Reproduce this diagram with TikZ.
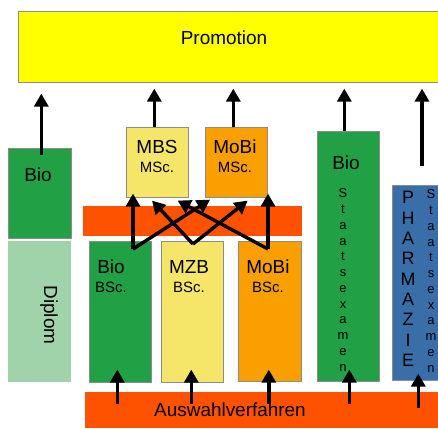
\documentclass[tikz,border=0pt]{standalone}
\usepackage{fontspec}
\setmainfont{Liberation Sans}
\usetikzlibrary{arrows.meta}

\definecolor{promoYellow}{RGB}{255,255,0}
\definecolor{bioGreen}{RGB}{33,160,70}
\definecolor{paleYellow}{RGB}{245,230,106}
\definecolor{mobiOrange}{RGB}{249,160,0}
\definecolor{barRed}{RGB}{255,82,0}
\definecolor{diplomGreen}{RGB}{161,211,170}
\definecolor{pharmaBlue}{RGB}{58,110,168}

\begin{document}
\begin{tikzpicture}[x=1bp,y=-1bp,
  box/.style={draw=black!45, line width=0.6bp, anchor=north west, inner sep=0pt},
  bar/.style={anchor=north west, inner sep=0pt},
  up/.style={line width=3.4bp, -{Triangle[width=14bp,length=13bp]}},
  big/.style={font=\fontsize{19}{22}\selectfont},
  small/.style={font=\fontsize{15}{18}\selectfont},
  stack/.style={align=center, inner sep=0pt}]

  \useasboundingbox (0,0) rectangle (438,428);

  % Draw the boxes
  \node[box, fill=promoYellow, minimum width=421bp, minimum height=71bp] (promo) at (18,11) {};
  \node[box, fill=bioGreen, minimum width=63bp, minimum height=90bp] (bio) at (8,148) {};
  \node[bar, fill=diplomGreen, minimum width=63bp, minimum height=141bp] (diplom) at (8,241) {};
  \node[bar, fill=barRed, minimum width=219bp, minimum height=30bp] (midbar) at (83,206) {};
  \node[box, fill=paleYellow, minimum width=62bp, minimum height=70bp] (mbs) at (126,127) {};
  \node[box, fill=mobiOrange, minimum width=62bp, minimum height=70bp] (mobimsc) at (205,127) {};
  \node[box, fill=bioGreen, minimum width=62bp, minimum height=141bp] (biobsc) at (89,241) {};
  \node[box, fill=paleYellow, minimum width=62bp, minimum height=141bp] (mzb) at (161,241) {};
  \node[box, fill=mobiOrange, minimum width=63bp, minimum height=140bp] (mobibsc) at (238,241) {};
  \node[box, fill=bioGreen, minimum width=62bp, minimum height=250bp] (staats) at (317,131) {};
  \node[box, fill=pharmaBlue, minimum width=48bp, minimum height=195bp] (pharma) at (392,185) {};
  \node[bar, fill=barRed, minimum width=353bp, minimum height=36bp] (aus) at (85,392) {};

  % Texts
  \node[big] (promo-t) at (224,38) {Promotion};
  \node[big] (bio-t) at (38,175) {Bio};
  \node[big, rotate=-90] (diplom-t) at (49,315) {Diplom};
  \node[big] (aus-t) at (230,410) {Auswahlverfahren};
  \foreach \nm/\x/\y/\a/\b in {mbs/157/147/MBS/MSc., mobimsc/235/147/MoBi/MSc.,
      biobsc/111/267/Bio/BSc., mzb/189/267/MZB/BSc., mobibsc/268/267/MoBi/BSc.} {
    \node[big] (\nm-a) at (\x,\y) {\a};
    \node[small] (\nm-b) at (\x,\y+20) {\b};
  }
  \node[big] (staats-a) at (346,163) {Bio};
  \node[stack, font=\fontsize{13}{15.8}\selectfont] (staats-b) at (343,280)
    {S\\t\\a\\a\\t\\s\\e\\x\\a\\m\\e\\n};
  \node[stack, font=\fontsize{18}{20.4}\selectfont] (pharma-a) at (408,279)
    {P\\H\\A\\R\\M\\A\\Z\\I\\E};
  \node[stack, font=\fontsize{13}{15.8}\selectfont] (pharma-b) at (431,281)
    {S\\t\\a\\a\\t\\s\\e\\x\\a\\m\\e\\n};

  % Arrows up to the Promotion
  \draw[up, shorten >=11bp] ([xshift=1.5bp, yshift=-7bp]bio.north) -- ([xshift=1.5bp]bio.north |- promo.south);
  \draw[up, shorten >=6bp] ([xshift=-3bp]mbs.north) -- ([xshift=-3bp]mbs.north |- promo.south);
  \draw[up, shorten >=6bp] ([xshift=-3bp]mobimsc.north) -- ([xshift=-3bp]mobimsc.north |- promo.south);
  \draw[up, shorten >=6bp] ([xshift=-4bp]staats.north) -- ([xshift=-4bp]staats.north |- promo.south);
  \coordinate (pharmtop) at (422,166);
  \draw[up, shorten >=6bp] (pharmtop) -- (pharmtop |- promo.south);

  % Arrows out of the Auswahlverfahren
  \foreach \nm/\dx/\ya/\yb in {biobsc/-3/-21/13, mzb/-1/-21/13, mobibsc/-1/-22/12,
      staats/1/-22/12, pharma/2/-27/7}
    \draw[up] ([xshift=\dx bp, yshift=\ya bp]\nm.south) -- ([xshift=\dx bp, yshift=\yb bp]\nm.south);

  % Crossing arrows from BSc to MSc
  \coordinate (b1) at (133,249);
  \coordinate (b2) at (193,244);
  \coordinate (b3) at (268,249);
  \draw[up, shorten >=-4bp] (b1) -- (b1 |- mbs.south);
  \draw[up] (b1) -- ([xshift=5bp, yshift=-2bp]mobimsc.south west);
  \draw[up] (b2) -- ([xshift=26bp, yshift=-3bp]mbs.south west);
  \draw[up] (b2) -- ([xshift=-20bp, yshift=-3bp]mobimsc.south east);
  \draw[up, shorten >=-4bp] (b3) -- (b3 |- mobimsc.south);
  \draw[up] (b3) -- ([xshift=-11bp, yshift=-3bp]mbs.south east);

\end{tikzpicture}
\end{document}
